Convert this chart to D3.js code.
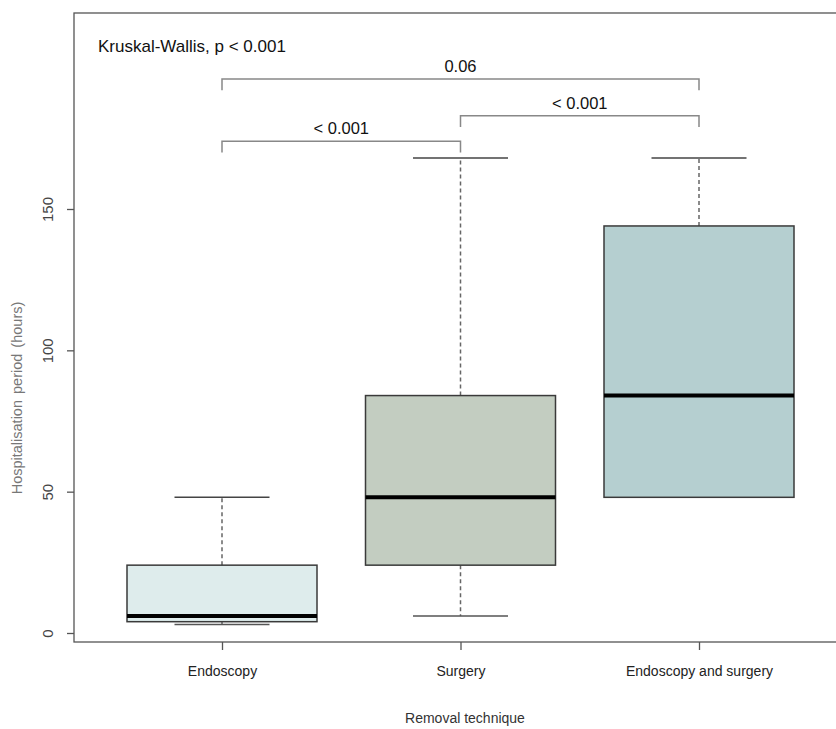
<!DOCTYPE html>
<html>
<head>
<meta charset="utf-8">
<script src="https://cdn.jsdelivr.net/npm/d3@7"></script>
<style>
  body { margin: 0; background: #fff; }
  svg text { font-family: "Liberation Sans", Arial, sans-serif; }
</style>
</head>
<body>
<div id="chart"></div>
<script>
// data
const categories = ["Endoscopy", "Surgery", "Endoscopy and surgery"];
const whiskerLow = [3, 6, 48];
const q1 = [4, 24, 48];
const median = [6, 48, 84];
const q3 = [24, 84, 144];
const whiskerHigh = [48, 168, 168];
const fills = ["#deecec", "#c3cdc1", "#b5cfd0"];
const yTicks = [0, 50, 100, 150];

// comparisons: from, to, bracket height, label
const pairFrom = [0, 1, 0];
const pairTo = [1, 2, 2];
const pairLevel = [174, 183, 196];
const pairLabel = ["< 0.001", "< 0.001", "0.06"];

const width = 836, height = 729;
const frame = {left: 74, top: 13, right: 840, bottom: 642};

const svg = d3.select("#chart").append("svg")
  .attr("width", width)
  .attr("height", height);

const x = d3.scalePoint()
  .domain(categories)
  .range([222, 699]);

const y = d3.scaleLinear()
  .domain([0, 150])
  .range([633, 209]);

const halfBox = 95;

// frame
svg.append("rect")
  .attr("x", frame.left).attr("y", frame.top)
  .attr("width", frame.right - frame.left)
  .attr("height", frame.bottom - frame.top)
  .attr("fill", "none").attr("stroke", "#555").attr("stroke-width", 1.3);

// y axis
const yAxis = svg.append("g")
  .attr("transform", "translate(" + frame.left + ",0)")
  .call(d3.axisLeft(y).tickValues(yTicks).tickSize(7));
yAxis.select(".domain").remove();
yAxis.selectAll(".tick line").attr("stroke", "#555").attr("stroke-width", 1.3);
yAxis.selectAll(".tick text")
  .attr("transform", "rotate(-90)")
  .attr("x", 0).attr("dy", 0).attr("y", -21)
  .attr("text-anchor", "middle")
  .attr("fill", "#444").style("font-size", "15px");

// x axis
const xAxis = svg.append("g")
  .attr("transform", "translate(0," + frame.bottom + ")")
  .call(d3.axisBottom(x).tickSize(8).tickPadding(16));
xAxis.select(".domain").remove();
xAxis.selectAll(".tick line").attr("stroke", "#555").attr("stroke-width", 1.3);
xAxis.selectAll(".tick text")
  .attr("fill", "#222")
  .style("font-family", "'Liberation Sans Narrow', 'Arial Narrow', sans-serif")
  .style("font-size", "14px");

// axis titles
svg.append("text")
  .attr("transform", "translate(22,398) rotate(-90)")
  .attr("text-anchor", "middle")
  .attr("fill", "#777")
  .style("font-size", "14.5px")
  .style("word-spacing", "2px")
  .text("Hospitalisation period (hours)");

svg.append("text")
  .attr("x", 465).attr("y", 723)
  .attr("text-anchor", "middle")
  .attr("fill", "#333")
  .style("font-family", "'Liberation Sans Narrow', 'Arial Narrow', sans-serif")
  .style("font-size", "14px")
  .text("Removal technique");

// boxes
const boxes = svg.append("g").selectAll("g")
  .data(categories)
  .enter().append("g");

// whiskers (dashed)
boxes.append("line")
  .attr("x1", d => x(d)).attr("x2", d => x(d))
  .attr("y1", (d, i) => y(q3[i])).attr("y2", (d, i) => y(whiskerHigh[i]))
  .attr("stroke", "#666").attr("stroke-width", 1.5).attr("stroke-dasharray", "4,3");
boxes.append("line")
  .attr("x1", d => x(d)).attr("x2", d => x(d))
  .attr("y1", (d, i) => y(q1[i])).attr("y2", (d, i) => y(whiskerLow[i]))
  .attr("stroke", "#666").attr("stroke-width", 1.5).attr("stroke-dasharray", "4,3");

// caps
boxes.append("line")
  .attr("x1", d => x(d) - halfBox / 2).attr("x2", d => x(d) + halfBox / 2)
  .attr("y1", (d, i) => y(whiskerHigh[i])).attr("y2", (d, i) => y(whiskerHigh[i]))
  .attr("stroke", "#444").attr("stroke-width", 1.5);
boxes.filter((d, i) => whiskerLow[i] < q1[i]).append("line")
  .attr("x1", d => x(d) - halfBox / 2).attr("x2", d => x(d) + halfBox / 2)
  .attr("y1", d => y(whiskerLow[categories.indexOf(d)]))
  .attr("y2", d => y(whiskerLow[categories.indexOf(d)]))
  .attr("stroke", "#555").attr("stroke-width", 1.5);

// box
boxes.append("rect")
  .attr("x", d => x(d) - halfBox)
  .attr("width", halfBox * 2)
  .attr("y", (d, i) => y(q3[i]))
  .attr("height", (d, i) => y(q1[i]) - y(q3[i]))
  .attr("fill", (d, i) => fills[i])
  .attr("stroke", "#3a3a3a").attr("stroke-width", 1.5);

// median
boxes.append("line")
  .attr("x1", d => x(d) - halfBox).attr("x2", d => x(d) + halfBox)
  .attr("y1", (d, i) => y(median[i])).attr("y2", (d, i) => y(median[i]))
  .attr("stroke", "#000").attr("stroke-width", 4);

// comparison brackets
const tip = 4;
pairLabel.forEach((lab, i) => {
  const x1 = x(categories[pairFrom[i]]), x2 = x(categories[pairTo[i]]);
  const yl = y(pairLevel[i]), yt = y(pairLevel[i] - tip);
  svg.append("path")
    .attr("d", "M" + x1 + "," + yt + "V" + yl + "H" + x2 + "V" + yt)
    .attr("fill", "none").attr("stroke", "#888").attr("stroke-width", 1.5);
  svg.append("text")
    .attr("x", (x1 + x2) / 2).attr("y", yl - 7)
    .attr("text-anchor", "middle")
    .attr("fill", "#111")
    .style("font-size", "16.5px")
    .text(lab);
});

svg.append("text")
  .attr("x", 98).attr("y", 52)
  .attr("fill", "#111")
  .style("font-size", "17px")
  .text("Kruskal-Wallis, p < 0.001");
</script>
</body>
</html>
